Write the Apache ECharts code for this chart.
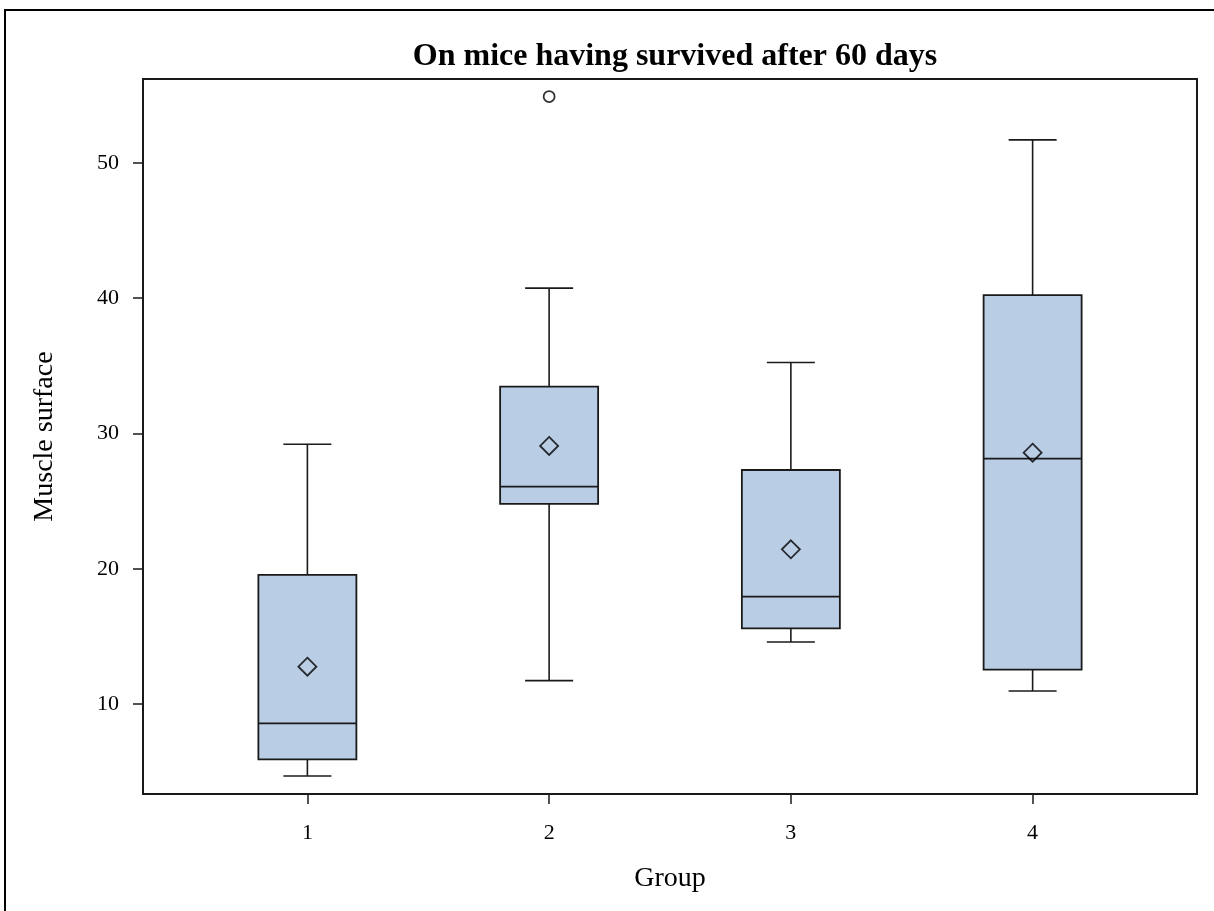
<!DOCTYPE html>
<html>
<head>
<meta charset="utf-8">
<script src="https://cdn.jsdelivr.net/npm/echarts@6/dist/echarts.min.js"></script>
<style>
  html, body { margin: 0; padding: 0; background: #fff; }
  #chart { width: 1214px; height: 911px; }
</style>
</head>
<body>
<div id="chart"></div>
<script>
// Box plot summary per group
const groups = [1, 2, 3, 4];
const whiskerLow = [4.68, 11.73, 14.58, 10.96];
const q1 = [5.91, 24.79, 15.59, 12.55];
const median = [8.57, 26.07, 17.94, 28.14];
const q3 = [19.54, 33.46, 27.30, 40.23];
const whiskerHigh = [29.20, 40.74, 35.24, 51.70];
const means = [12.76, 29.08, 21.44, 28.58];
const outliers = [[2, 54.9]];
const yTicks = [10, 20, 30, 40, 50];

const serif = '"Liberation Serif", "Times New Roman", "DejaVu Serif", serif';
const boxFill = '#B9CDE5';
const ink = '#1a1a1a';

const boxData = groups.map((g, i) => [g, whiskerLow[i], q1[i], median[i], q3[i], whiskerHigh[i]]);

function renderBox(params, api) {
  const x = api.value(0);
  const pLow = api.coord([x, api.value(1)]);
  const pQ1 = api.coord([x, api.value(2)]);
  const pMed = api.coord([x, api.value(3)]);
  const pQ3 = api.coord([x, api.value(4)]);
  const pHigh = api.coord([x, api.value(5)]);
  const cx = pQ1[0];
  const half = 49;
  const cap = 24;
  const line = { stroke: ink, lineWidth: 1.6 };
  return {
    type: 'group',
    children: [
      { type: 'line', shape: { x1: cx, y1: pQ3[1], x2: cx, y2: pHigh[1] }, style: line },
      { type: 'line', shape: { x1: cx, y1: pQ1[1], x2: cx, y2: pLow[1] }, style: line },
      { type: 'line', shape: { x1: cx - cap, y1: pHigh[1], x2: cx + cap, y2: pHigh[1] }, style: line },
      { type: 'line', shape: { x1: cx - cap, y1: pLow[1], x2: cx + cap, y2: pLow[1] }, style: line },
      { type: 'rect', shape: { x: cx - half, y: pQ3[1], width: 2 * half, height: pQ1[1] - pQ3[1] },
        style: { fill: boxFill, stroke: ink, lineWidth: 1.8 } },
      { type: 'line', shape: { x1: cx - half, y1: pMed[1], x2: cx + half, y2: pMed[1] }, style: line }
    ]
  };
}

const chart = echarts.init(document.getElementById('chart'), null, { renderer: 'canvas' });
chart.setOption({
  backgroundColor: '#fff',
  animation: false,
  title: {
    text: 'On mice having survived after 60 days',
    left: 670,
    top: 36,
    textAlign: 'center',
    textStyle: { fontFamily: serif, fontWeight: 'bold', fontSize: 32, color: '#000' }
  },
  graphic: [{
    type: 'rect',
    shape: { x: 5, y: 10, width: 1240, height: 940 },
    style: { fill: 'none', stroke: '#000', lineWidth: 2 },
    silent: true,
    z: 100
  }],
  grid: {
    left: 143, right: 17, top: 79, bottom: 117,
    show: true, borderColor: ink, borderWidth: 2, backgroundColor: 'transparent'
  },
  xAxis: {
    type: 'value',
    min: 0.32,
    max: 4.68,
    name: 'Group',
    nameLocation: 'middle',
    nameGap: 71,
    nameTextStyle: { fontFamily: serif, fontSize: 28, color: '#000' },
    splitLine: { show: false },
    axisLine: { show: true, lineStyle: { color: ink, width: 2 } },
    axisTick: { show: true, length: 10, lineStyle: { color: ink, width: 1.5 }, customValues: groups },
    axisLabel: { customValues: groups, margin: 28, fontFamily: serif, fontSize: 22, color: '#000' }
  },
  yAxis: {
    type: 'value',
    min: 3.35,
    max: 56.2,
    name: 'Muscle surface',
    nameLocation: 'middle',
    nameGap: 84,
    nameRotate: 90,
    nameTextStyle: { fontFamily: serif, fontSize: 28, color: '#000' },
    splitLine: { show: false },
    axisLine: { show: true, lineStyle: { color: ink, width: 2 } },
    axisTick: { show: true, length: 10, lineStyle: { color: ink, width: 1.5 }, customValues: yTicks },
    axisLabel: { customValues: yTicks, margin: 24, fontFamily: serif, fontSize: 22, color: '#000' }
  },
  series: [
    {
      type: 'custom',
      name: 'Box',
      renderItem: renderBox,
      encode: { x: 0, y: [1, 2, 3, 4, 5] },
      data: boxData,
      z: 2
    },
    {
      type: 'scatter',
      name: 'Mean',
      symbol: 'diamond',
      symbolSize: [18, 18],
      itemStyle: { color: 'rgba(0,0,0,0)', borderColor: '#000', borderWidth: 1.8 },
      data: groups.map((g, i) => [g, means[i]]),
      z: 3
    },
    {
      type: 'scatter',
      name: 'Outlier',
      symbol: 'circle',
      symbolSize: 11,
      itemStyle: { color: 'rgba(0,0,0,0)', borderColor: '#000', borderWidth: 1.8 },
      data: outliers,
      z: 3
    }
  ]
});
</script>
</body>
</html>
